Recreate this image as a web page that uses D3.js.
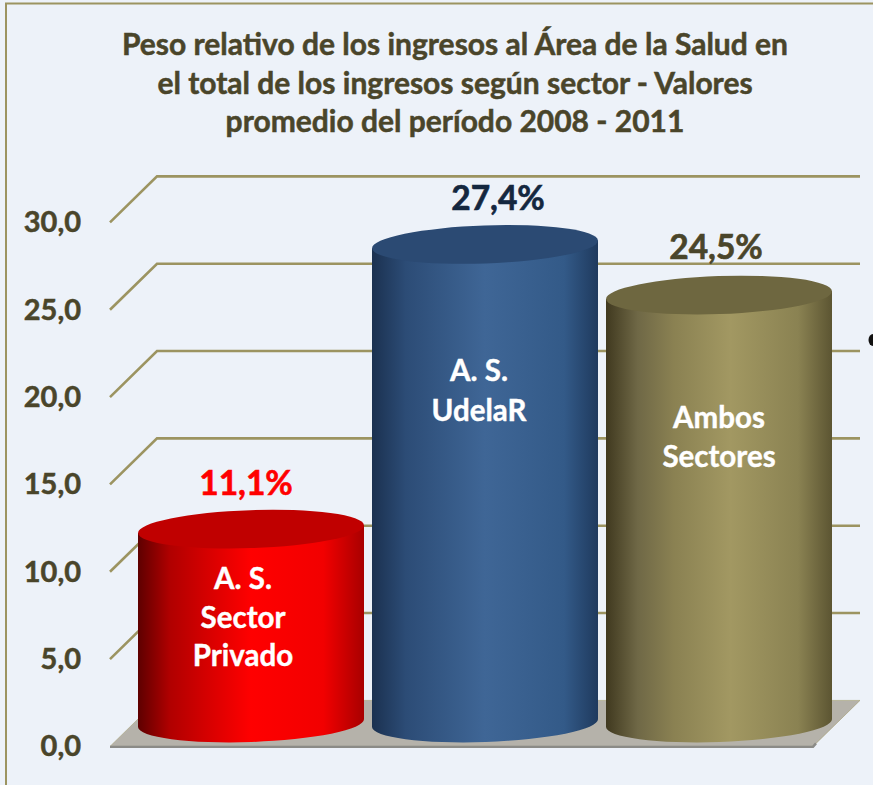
<!DOCTYPE html>
<html><head><meta charset="utf-8">
<script src="https://cdn.jsdelivr.net/npm/d3@7"></script>
<style>html,body{margin:0;padding:0;background:#fff}svg{display:block}text{font-family:Lato,"Open Sans",sans-serif;font-weight:700;stroke:currentColor;paint-order:stroke}</style>
</head><body><div id="c"></div>
<script>
const titleLines=["Peso relativo de los ingresos al Área de la Salud en","el total de los ingresos según sector - Valores","promedio del período 2008 - 2011"];
const categories=["A. S. Sector Privado","A. S. UdelaR","Ambos Sectores"];
const values=[11.1,27.4,24.5];
const valueLabels=["11,1%","27,4%","24,5%"];
const tickValues=[0,5,10,15,20,25,30];
const tickLabels=["0,0","5,0","10,0","15,0","20,0","25,0","30,0"];
const barLabelLines=[["A. S.","Sector","Privado"],["A. S.","UdelaR"],["Ambos","Sectores"]];

const W=873,H=785;
const svg=d3.select("#c").append("svg").attr("width",W).attr("height",H);
const defs=svg.append("defs");
const themes=[
 {stops:[[0,"#5e0000"],[.14,"#b00000"],[.3,"#d40000"],[.5,"#ff0000"],[.82,"#f20000"],[1,"#a80000"]],top:"#c00000",val:"#ff0000"},
 {stops:[[0,"#1b3150"],[.15,"#2c4c76"],[.5,"#3f6696"],[.85,"#335a88"],[1,"#1f3a5e"]],top:"#2b4a73",val:"#14273f"},
 {stops:[[0,"#40391f"],[.14,"#6f6846"],[.3,"#8a8152"],[.55,"#a29862"],[.85,"#8a8252"],[1,"#5c5532"]],top:"#6e6740",val:"#4a452a"}
];
themes.forEach((t,i)=>{
  const g=defs.append("linearGradient").attr("id","g"+i).attr("x1",0).attr("x2",1).attr("y1",0).attr("y2",0);
  t.stops.forEach(s=>g.append("stop").attr("offset",s[0]).attr("stop-color",s[1]));
});

// background + frame
svg.append("rect").attr("x",0).attr("y",0).attr("width",W).attr("height",H).attr("fill","#edf2f9");
svg.append("path").attr("d",`M6 ${H} V3.5 H${W}`).attr("fill","none").attr("stroke","#9c9461").attr("stroke-width",2);

// scales
const yFront=d3.scaleLinear().domain([0,30]).range([746.4,222.4]);
const depthX=47,depthY=-46,floorW=703;
const x0=110;
const x=d3.scaleBand().domain(categories).range([138,832]).paddingInner(8/234);
const base=d3.scaleLinear().domain([0,30]).range([723,199]); // mid-depth plane used by the cylinders

// gridlines
const wall=svg.append("g");
tickValues.filter(v=>v>0).forEach(v=>{
  const y=yFront(v);
  wall.append("path").attr("d",`M${x0} ${y} L${x0+depthX} ${y+depthY} H${x0+depthX+floorW}`)
    .attr("fill","none").attr("stroke","#9c9461").attr("stroke-width",2.6);
});
// floor
const y00=yFront(0);
svg.append("path").attr("d",`M${x0} ${y00} L${x0+depthX} ${y00+depthY} H${x0+depthX+floorW} L${x0+floorW} ${y00}Z`).attr("fill","#b5b2aa").attr("stroke","#9c9461").attr("stroke-width",.5);
svg.append("path").attr("d",`M${x0} ${y00+.5} H${x0+floorW} L${x0+floorW+3} ${y00-3}`).attr("fill","none").attr("stroke","#8b8b87").attr("stroke-width",2.4);

// tick labels
svg.append("g").selectAll("text").data(tickValues).join("text")
  .attr("x",81).attr("y",(d)=>yFront(d)+10).attr("text-anchor","end")
  .attr("font-size",29).attr("stroke-width",.5).style("color","#4a452a").attr("fill","#4a452a").text((d,i)=>tickLabels[i]);

// cylinders
const rx=113,ry=19,tilt=-2;
const tiltDy=Math.sin(tilt*Math.PI/180)*rx;
const bars=svg.append("g").selectAll("g").data(categories).join("g");
bars.append("path").attr("fill",(d,i)=>`url(#g${i})`).attr("d",(d,i)=>{
  const l=x(d),r=l+x.bandwidth(),cy0=base(0),cy1=base(values[i]);
  return `M${l} ${cy1-tiltDy} L${l} ${cy0-tiltDy} A${rx} ${ry} ${tilt} 0 0 ${r} ${cy0+tiltDy} L${r} ${cy1+tiltDy}Z`;
});
bars.append("ellipse").attr("cx",0).attr("cy",0).attr("rx",rx).attr("ry",ry).attr("fill",(d,i)=>themes[i].top)
  .attr("transform",(d,i)=>`translate(${x(d)+x.bandwidth()/2},${base(values[i])}) rotate(${tilt})`);

// value labels
const valueShift=[[-5,-34],[13,-34],[-3,-36]];
svg.append("g").selectAll("text").data(values).join("text")
  .attr("x",(d,i)=>x(categories[i])+x.bandwidth()/2+valueShift[i][0])
  .attr("y",(d,i)=>base(d)+valueShift[i][1])
  .attr("text-anchor","middle").attr("font-size",33.5).attr("stroke-width",.6)
  .style("color",(d,i)=>themes[i].val).attr("fill",(d,i)=>themes[i].val)
  .text((d,i)=>valueLabels[i]);

// inside labels
const labelStart=[589,381,428],labelStep=[38.5,40,39],labelShift=[-8,-6,0];
barLabelLines.forEach((lines,i)=>{
  lines.forEach((s,j)=>{
    svg.append("text").attr("x",x(categories[i])+x.bandwidth()/2+labelShift[i]).attr("y",labelStart[i]+j*labelStep[i])
      .attr("text-anchor","middle").attr("font-size",29.5).attr("stroke-width",.4).style("color","#fff").attr("fill","#fff").text(s);
  });
});

// title
const titleY=[55,94,132];
svg.append("g").selectAll("text").data(titleLines).join("text")
  .attr("x",455).attr("y",(d,i)=>titleY[i]).attr("text-anchor","middle")
  .attr("font-size",30).attr("stroke-width",.5).style("color","#4a452a").attr("fill","#4a452a").text(d=>d);

// stray mark at the right edge
svg.append("ellipse").attr("cx",873).attr("cy",340).attr("rx",4.5).attr("ry",6).attr("fill","#111");
</script></body></html>
